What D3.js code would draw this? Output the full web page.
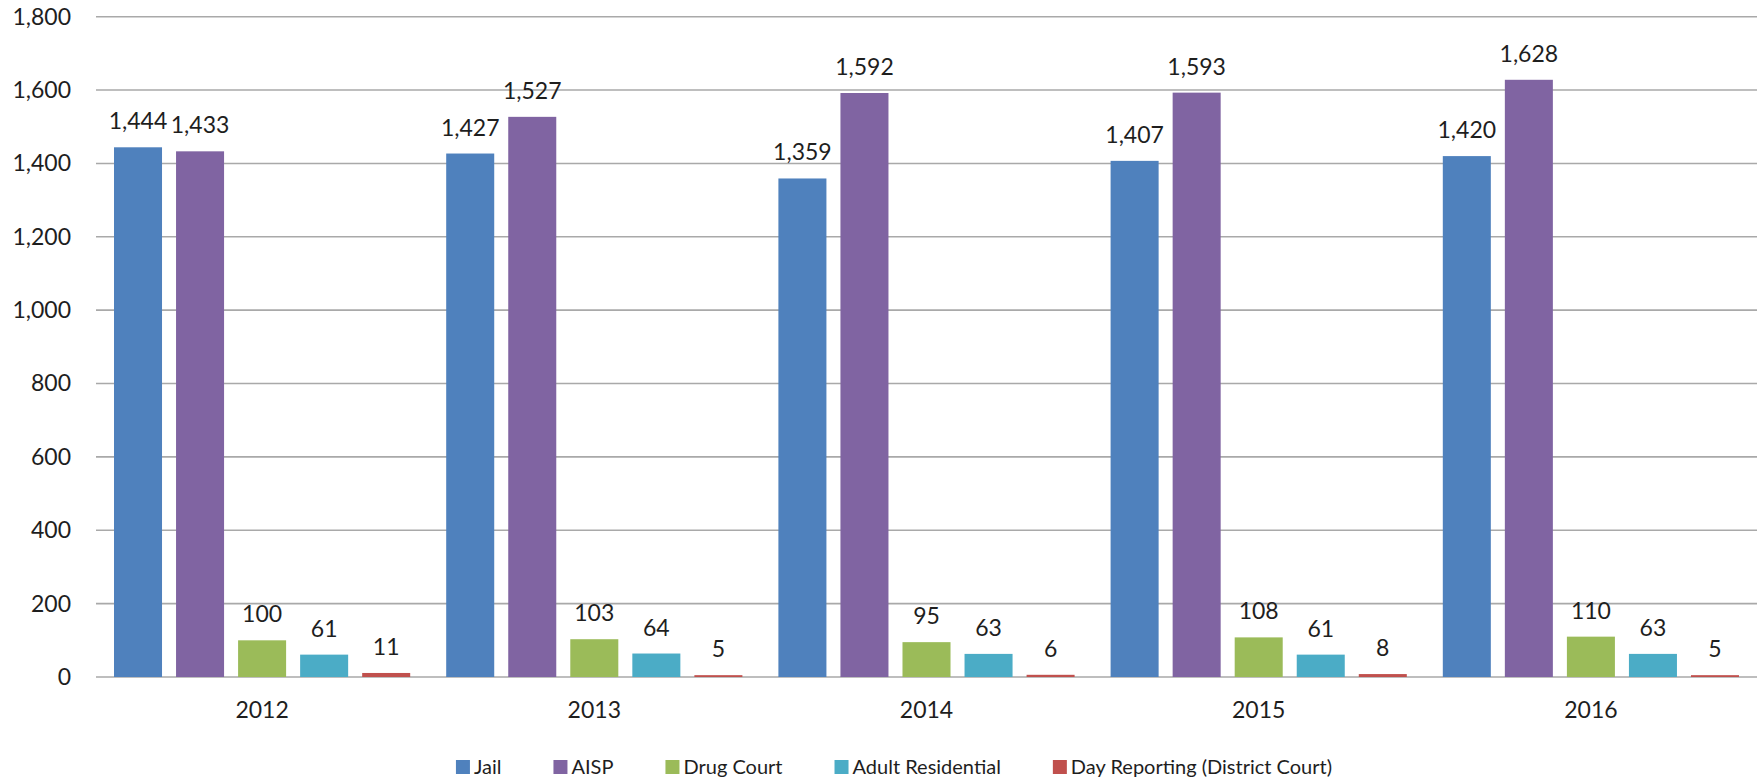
<!DOCTYPE html>
<html>
<head>
<meta charset="utf-8">
<script src="https://cdn.jsdelivr.net/npm/d3@7"></script>
<style>
  html, body { margin: 0; padding: 0; background: #fff; }
  svg { display: block; }
  text { font-family: "Lato", "Open Sans", sans-serif; fill: #1e1e1e; }
</style>
</head>
<body>
<svg id="chart" width="1759" height="779"></svg>
<script>
const years = ["2012", "2013", "2014", "2015", "2016"];
const seriesNames = ["Jail", "AISP", "Drug Court", "Adult Residential", "Day Reporting (District Court)"];
const jail = [1444, 1427, 1359, 1407, 1420];
const aisp = [1433, 1527, 1592, 1593, 1628];
const drugCourt = [100, 103, 95, 108, 110];
const adultResidential = [61, 64, 63, 61, 63];
const dayReporting = [11, 5, 6, 8, 5];
const yTicks = [0, 200, 400, 600, 800, 1000, 1200, 1400, 1600, 1800];
const colors = ["#4F81BD", "#8064A2", "#9BBB59", "#4BACC6", "#C0504D"];

const seriesValues = [jail, aisp, drugCourt, adultResidential, dayReporting];

const svg = d3.select("#chart");
const mLeft = 96, mRight = 1757, mTop = 16.7, mBottom = 677;

const x0 = d3.scaleBand().domain(years).range([mLeft, mRight]).paddingInner(0).paddingOuter(0);
const groupPad = 18;
const x1 = d3.scaleBand().domain(seriesNames)
  .range([groupPad, x0.bandwidth() - groupPad]).paddingInner(0.226).paddingOuter(0);
const y = d3.scaleLinear().domain([0, 1800]).range([mBottom, mTop]);
const fmt = d3.format(",");

// gridlines
svg.append("g").selectAll("line").data(yTicks).join("line")
  .attr("x1", mLeft).attr("x2", mRight)
  .attr("y1", d => y(d)).attr("y2", d => y(d))
  .attr("stroke", "#a9a9a9").attr("stroke-width", 1.6);

// y axis labels
const yAxis = d3.axisLeft(y).tickValues(yTicks).tickFormat(fmt).tickSize(0).tickPadding(0);
const yg = svg.append("g").attr("transform", `translate(${mLeft - 25},0)`).call(yAxis);
yg.select(".domain").remove();
yg.selectAll("text").style("font-family", "Lato, sans-serif").style("font-size", "23px").attr("fill", "#1e1e1e");

// x axis labels
const xAxis = d3.axisBottom(x0).tickSize(0).tickPadding(0);
const xg = svg.append("g").attr("transform", `translate(0,${mBottom + 25})`).call(xAxis);
xg.select(".domain").remove();
xg.selectAll("text").style("font-family", "Lato, sans-serif").style("font-size", "23px").attr("fill", "#1e1e1e");

// bars
const groups = svg.append("g").selectAll("g").data(years).join("g")
  .attr("transform", d => `translate(${x0(d)},0)`);

groups.each(function(yr, i) {
  const g = d3.select(this);
  const rows = seriesNames.map((s, k) => ({ s, k, v: seriesValues[k][i] }));
  g.selectAll("rect").data(rows).join("rect")
    .attr("x", d => x1(d.s))
    .attr("width", x1.bandwidth())
    .attr("y", d => y(d.v))
    .attr("height", d => y(0) - y(d.v))
    .attr("fill", d => colors[d.k]);
  g.selectAll("text.lbl").data(rows).join("text")
    .attr("class", "lbl")
    .attr("x", d => x1(d.s) + x1.bandwidth() / 2)
    .attr("y", d => y(d.v) - 18)
    .attr("text-anchor", "middle")
    .style("font-size", "23px")
    .text(d => fmt(d.v));
});

// legend
const legend = svg.append("g");
const items = legend.selectAll("g").data(seriesNames).join("g");
items.append("rect").attr("width", 14).attr("height", 14).attr("y", -7)
  .attr("fill", (d, i) => colors[i]);
items.append("text").attr("x", 18).attr("y", 0).attr("dy", "0.35em")
  .style("font-size", "20px").text(d => d);
let cx = 0;
const gap = 52;
items.each(function() {
  const w = this.getBBox().width;
  d3.select(this).attr("transform", `translate(${cx},0)`);
  cx += w + gap;
});
const totalW = cx - gap;
legend.attr("transform", `translate(${894 - totalW / 2},767)`);
</script>
</body>
</html>
